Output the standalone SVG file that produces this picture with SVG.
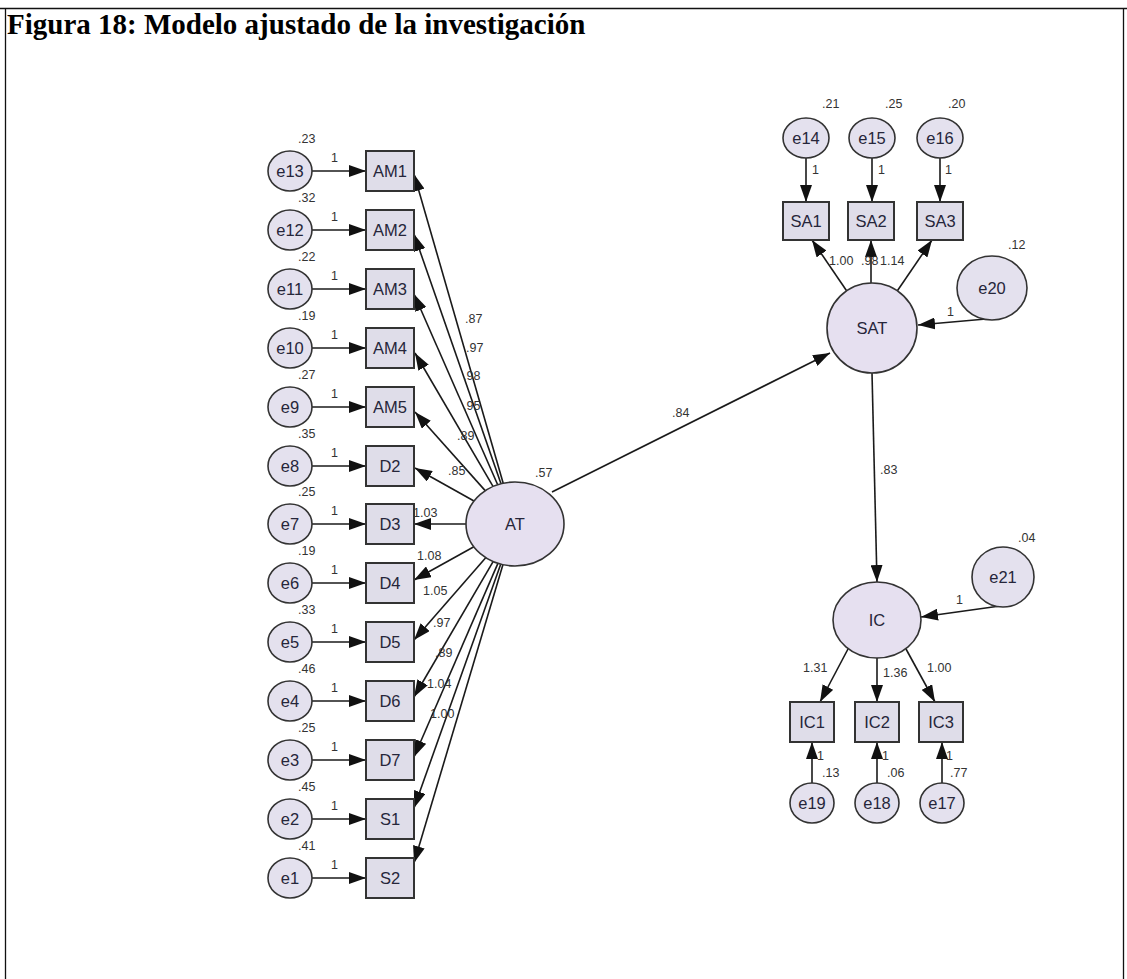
<svg xmlns="http://www.w3.org/2000/svg" width="1127" height="979" viewBox="0 0 1127 979">
  <style>
    .frame { stroke: #111; stroke-width: 1.3; fill: none; }
    .title { font-family: "Liberation Serif", "Times New Roman", serif; font-weight: bold; font-size: 29px; fill: #000; }
    .lat { fill: #e6e0f0; stroke: #333; stroke-width: 1.6; }
    .err { fill: #e4e1ee; stroke: #333; stroke-width: 1.6; }
    .obs { fill: #dfdde9; stroke: #333; stroke-width: 2; }
    .nl { font-family: "Liberation Sans", Arial, sans-serif; font-size: 16.5px; fill: #26263a; text-anchor: middle; }
    .pl { font-family: "Liberation Sans", Arial, sans-serif; font-size: 12.5px; fill: #333; }
    .edge { stroke: #1a1a1a; stroke-width: 1.6; fill: none; marker-end: url(#head); }
  </style>
  <defs>
    <marker id="head" viewBox="0 0 17 12" refX="17" refY="6" markerWidth="17" markerHeight="12" markerUnits="userSpaceOnUse" orient="auto">
      <path d="M0,0 L17,6 L0,12 z" fill="#111"/>
    </marker>
  </defs>

  <rect width="1127" height="979" fill="#fff"/>
  <!-- page frame -->
  <path class="frame" d="M0,8.5 H1127 M5.5,8.5 V979 M1123.5,8.5 V979"/>
  <text class="title" x="7" y="34">Figura 18: Modelo ajustado de la investigación</text>

  <!-- connectors -->
  <g id="connectors">
    <!-- error terms to indicators (left column) -->
    <line class="edge" x1="312" y1="171" x2="366" y2="171"/>
    <line class="edge" x1="312" y1="230" x2="366" y2="230"/>
    <line class="edge" x1="312" y1="289" x2="366" y2="289"/>
    <line class="edge" x1="312" y1="348" x2="366" y2="348"/>
    <line class="edge" x1="312" y1="407" x2="366" y2="407"/>
    <line class="edge" x1="312" y1="466" x2="366" y2="466"/>
    <line class="edge" x1="312" y1="524" x2="366" y2="524"/>
    <line class="edge" x1="312" y1="583" x2="366" y2="583"/>
    <line class="edge" x1="312" y1="642" x2="366" y2="642"/>
    <line class="edge" x1="312" y1="701" x2="366" y2="701"/>
    <line class="edge" x1="312" y1="760" x2="366" y2="760"/>
    <line class="edge" x1="312" y1="819" x2="366" y2="819"/>
    <line class="edge" x1="312" y1="878" x2="366" y2="878"/>
    <!-- AT loadings -->
    <line class="edge" x1="503.2" y1="483.2" x2="414" y2="174"/>
    <line class="edge" x1="501.0" y1="483.7" x2="414" y2="234"/>
    <line class="edge" x1="497.7" y1="484.7" x2="414" y2="294"/>
    <line class="edge" x1="493.0" y1="486.4" x2="415" y2="353"/>
    <line class="edge" x1="485.2" y1="490.6" x2="415" y2="412"/>
    <line class="edge" x1="474.0" y1="501.0" x2="415" y2="468"/>
    <line class="edge" x1="466" y1="524" x2="414" y2="524"/>
    <line class="edge" x1="473.9" y1="546.8" x2="414" y2="580"/>
    <line class="edge" x1="485.7" y1="557.7" x2="414" y2="640"/>
    <line class="edge" x1="493.1" y1="561.6" x2="414" y2="697"/>
    <line class="edge" x1="497.9" y1="563.4" x2="414" y2="757"/>
    <line class="edge" x1="500.7" y1="564.2" x2="414" y2="808"/>
    <line class="edge" x1="502.9" y1="564.7" x2="414" y2="863"/>
    <!-- structural paths -->
    <line class="edge" x1="552" y1="492" x2="830" y2="353"/>
    <line class="edge" x1="872" y1="373" x2="877" y2="582"/>
    <!-- SAT block -->
    <line class="edge" x1="806" y1="158" x2="806" y2="202"/>
    <line class="edge" x1="872" y1="158" x2="872" y2="202"/>
    <line class="edge" x1="940" y1="158" x2="940" y2="202"/>
    <line class="edge" x1="846.6" y1="290.8" x2="812" y2="240"/>
    <line class="edge" x1="871" y1="283" x2="871" y2="240"/>
    <line class="edge" x1="897.4" y1="290.8" x2="932" y2="240"/>
    <line class="edge" x1="986" y1="319" x2="918" y2="325"/>
    <!-- IC block -->
    <line class="edge" x1="1000" y1="606" x2="921" y2="617"/>
    <line class="edge" x1="848" y1="649" x2="820" y2="702"/>
    <line class="edge" x1="877" y1="658" x2="877" y2="702"/>
    <line class="edge" x1="906" y1="649" x2="935" y2="702"/>
    <line class="edge" x1="812" y1="783" x2="812" y2="742"/>
    <line class="edge" x1="877" y1="783" x2="877" y2="742"/>
    <line class="edge" x1="942" y1="783" x2="942" y2="742"/>
  </g>

  <!-- connector labels -->
  <g id="path-labels" class="pl">
    <text x="331" y="162">1</text>
    <text x="331" y="221">1</text>
    <text x="331" y="280">1</text>
    <text x="331" y="339">1</text>
    <text x="331" y="398">1</text>
    <text x="331" y="457">1</text>
    <text x="331" y="515">1</text>
    <text x="331" y="574">1</text>
    <text x="331" y="633">1</text>
    <text x="331" y="692">1</text>
    <text x="331" y="751">1</text>
    <text x="331" y="810">1</text>
    <text x="331" y="869">1</text>

    <text x="465" y="323">.87</text>
    <text x="466" y="352">.97</text>
    <text x="463" y="380">.98</text>
    <text x="463" y="410">.95</text>
    <text x="457" y="440">.89</text>
    <text x="448" y="475">.85</text>
    <text x="413" y="517">1.03</text>
    <text x="417" y="560">1.08</text>
    <text x="423" y="595">1.05</text>
    <text x="433" y="627">.97</text>
    <text x="435" y="657">.89</text>
    <text x="427" y="688">1.04</text>
    <text x="430" y="718">1.00</text>

    <text x="672" y="417">.84</text>
    <text x="880" y="474">.83</text>

    <text x="812" y="174">1</text>
    <text x="878" y="174">1</text>
    <text x="945" y="174">1</text>
    <text x="829" y="265">1.00</text>
    <text x="861" y="265">.98</text>
    <text x="880" y="265">1.14</text>
    <text x="947" y="316">1</text>

    <text x="956" y="604">1</text>
    <text x="803" y="672">1.31</text>
    <text x="883" y="677">1.36</text>
    <text x="927" y="672">1.00</text>
    <text x="817" y="760">1</text>
    <text x="882" y="760">1</text>
    <text x="946" y="760">1</text>
  </g>

  <!-- latent variables -->
  <g id="AT">
    <ellipse class="lat" cx="515" cy="524" rx="49" ry="42"/>
    <text class="nl" x="515" y="530">AT</text>
    <text class="pl" x="535" y="477">.57</text>
  </g>
  <g id="SAT">
    <circle class="lat" cx="872" cy="328" r="45"/>
    <text class="nl" x="872" y="334">SAT</text>
  </g>
  <g id="IC">
    <ellipse class="lat" cx="877" cy="620" rx="44" ry="38"/>
    <text class="nl" x="877" y="626">IC</text>
  </g>

  <!-- left column: error terms and indicators of AT -->
  <g id="e13"><ellipse class="err" cx="290" cy="171" rx="22" ry="20"/><text class="nl" x="290" y="177">e13</text><text class="pl" x="298" y="143">.23</text></g>
  <g id="AM1"><rect class="obs" x="366" y="151" width="48" height="40"/><text class="nl" x="390" y="177">AM1</text></g>
  <g id="e12"><ellipse class="err" cx="290" cy="230" rx="22" ry="20"/><text class="nl" x="290" y="236">e12</text><text class="pl" x="298" y="202">.32</text></g>
  <g id="AM2"><rect class="obs" x="366" y="210" width="48" height="40"/><text class="nl" x="390" y="236">AM2</text></g>
  <g id="e11"><ellipse class="err" cx="290" cy="289" rx="22" ry="20"/><text class="nl" x="290" y="295">e11</text><text class="pl" x="298" y="261">.22</text></g>
  <g id="AM3"><rect class="obs" x="366" y="269" width="48" height="40"/><text class="nl" x="390" y="295">AM3</text></g>
  <g id="e10"><ellipse class="err" cx="290" cy="348" rx="22" ry="20"/><text class="nl" x="290" y="354">e10</text><text class="pl" x="298" y="320">.19</text></g>
  <g id="AM4"><rect class="obs" x="366" y="328" width="48" height="40"/><text class="nl" x="390" y="354">AM4</text></g>
  <g id="e9"><ellipse class="err" cx="290" cy="407" rx="22" ry="20"/><text class="nl" x="290" y="413">e9</text><text class="pl" x="298" y="379">.27</text></g>
  <g id="AM5"><rect class="obs" x="366" y="387" width="48" height="40"/><text class="nl" x="390" y="413">AM5</text></g>
  <g id="e8"><ellipse class="err" cx="290" cy="466" rx="22" ry="20"/><text class="nl" x="290" y="472">e8</text><text class="pl" x="298" y="438">.35</text></g>
  <g id="D2"><rect class="obs" x="366" y="446" width="48" height="40"/><text class="nl" x="390" y="472">D2</text></g>
  <g id="e7"><ellipse class="err" cx="290" cy="524" rx="22" ry="20"/><text class="nl" x="290" y="530">e7</text><text class="pl" x="298" y="496">.25</text></g>
  <g id="D3"><rect class="obs" x="366" y="504" width="48" height="40"/><text class="nl" x="390" y="530">D3</text></g>
  <g id="e6"><ellipse class="err" cx="290" cy="583" rx="22" ry="20"/><text class="nl" x="290" y="589">e6</text><text class="pl" x="298" y="555">.19</text></g>
  <g id="D4"><rect class="obs" x="366" y="563" width="48" height="40"/><text class="nl" x="390" y="589">D4</text></g>
  <g id="e5"><ellipse class="err" cx="290" cy="642" rx="22" ry="20"/><text class="nl" x="290" y="648">e5</text><text class="pl" x="298" y="614">.33</text></g>
  <g id="D5"><rect class="obs" x="366" y="622" width="48" height="40"/><text class="nl" x="390" y="648">D5</text></g>
  <g id="e4"><ellipse class="err" cx="290" cy="701" rx="22" ry="20"/><text class="nl" x="290" y="707">e4</text><text class="pl" x="298" y="673">.46</text></g>
  <g id="D6"><rect class="obs" x="366" y="681" width="48" height="40"/><text class="nl" x="390" y="707">D6</text></g>
  <g id="e3"><ellipse class="err" cx="290" cy="760" rx="22" ry="20"/><text class="nl" x="290" y="766">e3</text><text class="pl" x="298" y="732">.25</text></g>
  <g id="D7"><rect class="obs" x="366" y="740" width="48" height="40"/><text class="nl" x="390" y="766">D7</text></g>
  <g id="e2"><ellipse class="err" cx="290" cy="819" rx="22" ry="20"/><text class="nl" x="290" y="825">e2</text><text class="pl" x="298" y="791">.45</text></g>
  <g id="S1"><rect class="obs" x="366" y="799" width="48" height="40"/><text class="nl" x="390" y="825">S1</text></g>
  <g id="e1"><ellipse class="err" cx="290" cy="878" rx="22" ry="20"/><text class="nl" x="290" y="884">e1</text><text class="pl" x="298" y="850">.41</text></g>
  <g id="S2"><rect class="obs" x="366" y="858" width="48" height="40"/><text class="nl" x="390" y="884">S2</text></g>

  <!-- SAT indicators -->
  <g id="e14"><ellipse class="err" cx="806" cy="138" rx="23" ry="20"/><text class="nl" x="806" y="144">e14</text><text class="pl" x="822" y="108">.21</text></g>
  <g id="e15"><ellipse class="err" cx="872" cy="138" rx="23" ry="20"/><text class="nl" x="872" y="144">e15</text><text class="pl" x="885" y="108">.25</text></g>
  <g id="e16"><ellipse class="err" cx="940" cy="138" rx="23" ry="20"/><text class="nl" x="940" y="144">e16</text><text class="pl" x="948" y="108">.20</text></g>
  <g id="SA1"><rect class="obs" x="783" y="202" width="46" height="38"/><text class="nl" x="806" y="227">SA1</text></g>
  <g id="SA2"><rect class="obs" x="848" y="202" width="46" height="38"/><text class="nl" x="871" y="227">SA2</text></g>
  <g id="SA3"><rect class="obs" x="917" y="202" width="46" height="38"/><text class="nl" x="940" y="227">SA3</text></g>
  <g id="e20"><ellipse class="err" cx="992" cy="288" rx="35" ry="32"/><text class="nl" x="992" y="294">e20</text><text class="pl" x="1008" y="249">.12</text></g>

  <!-- IC indicators -->
  <g id="e21"><ellipse class="err" cx="1003" cy="577" rx="31" ry="30"/><text class="nl" x="1003" y="583">e21</text><text class="pl" x="1018" y="542">.04</text></g>
  <g id="IC1"><rect class="obs" x="790" y="702" width="44" height="40"/><text class="nl" x="812" y="728">IC1</text></g>
  <g id="IC2"><rect class="obs" x="855" y="702" width="44" height="40"/><text class="nl" x="877" y="728">IC2</text></g>
  <g id="IC3"><rect class="obs" x="919" y="702" width="44" height="40"/><text class="nl" x="941" y="728">IC3</text></g>
  <g id="e19"><ellipse class="err" cx="812" cy="803" rx="22" ry="20"/><text class="nl" x="812" y="809">e19</text><text class="pl" x="822" y="777">.13</text></g>
  <g id="e18"><ellipse class="err" cx="877" cy="803" rx="22" ry="20"/><text class="nl" x="877" y="809">e18</text><text class="pl" x="887" y="777">.06</text></g>
  <g id="e17"><ellipse class="err" cx="942" cy="803" rx="22" ry="20"/><text class="nl" x="942" y="809">e17</text><text class="pl" x="950" y="777">.77</text></g>
</svg>
